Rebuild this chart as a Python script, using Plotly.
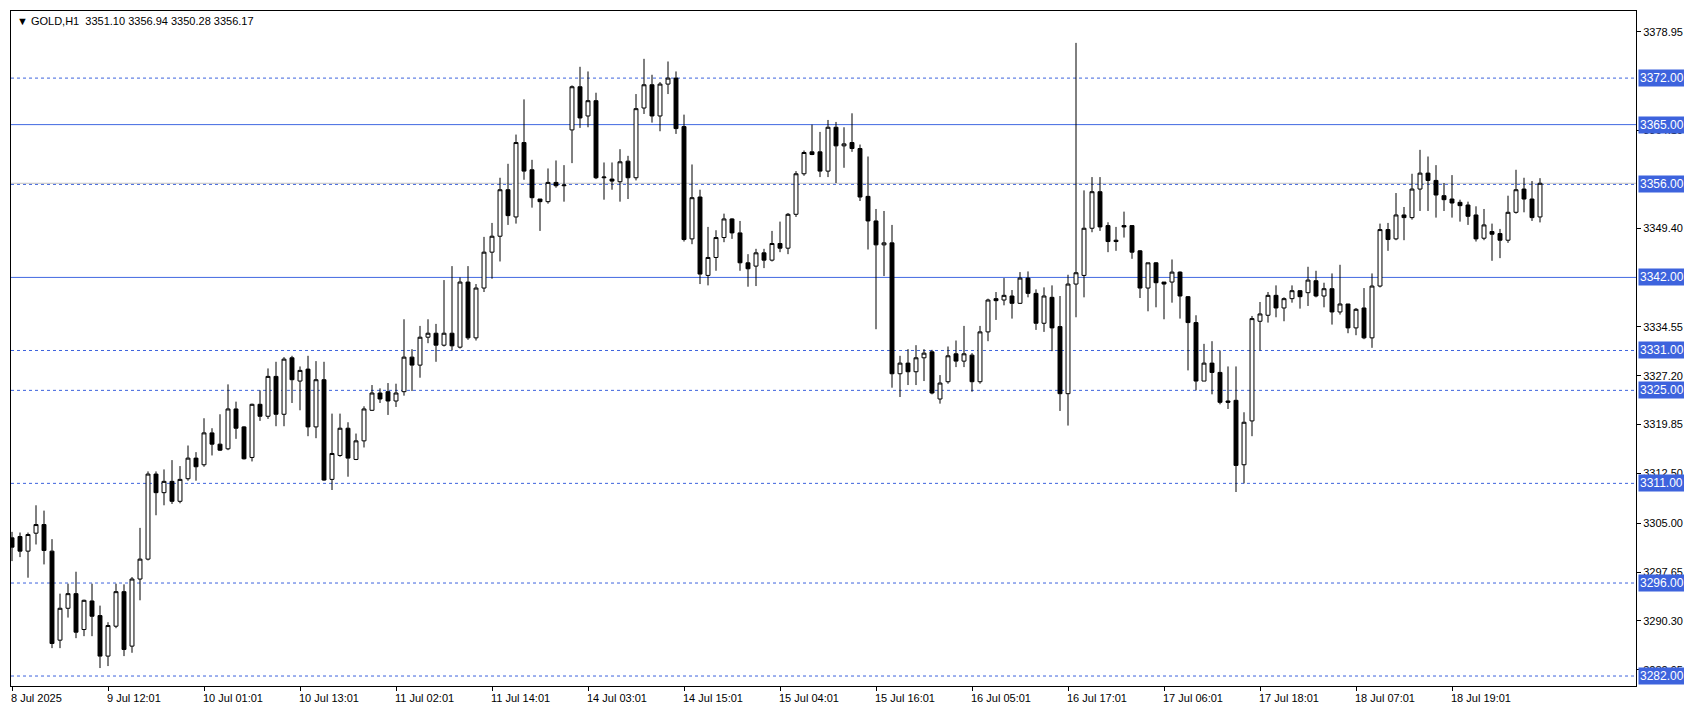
import plotly.graph_objects as go

opens = [3302.8,3303.0,3300.8,3303.5,3304.8,3300.8,3287.4,3292.2,3294.4,3289.0,
3293.3,3291.1,3285.0,3289.5,3294.7,3286.5,3296.6,3299.6,3312.4,3309.6,
3311.3,3308.3,3311.7,3314.8,3313.8,3318.6,3316.9,3316.2,3322.2,3319.5,
3314.9,3322.9,3321.1,3327.1,3321.4,3329.9,3326.4,3328.2,3319.5,3326.6,
3311.6,3315.2,3319.3,3314.6,3317.4,3322.0,3324.6,3324.8,3323.4,3324.8,
3330.0,3328.8,3333.0,3333.6,3331.8,3333.6,3331.5,3341.3,3332.9,3340.4,
3345.8,3348.2,3355.2,3351.1,3362.3,3358.2,3353.8,3353.4,3356.3,3355.8,
3364.2,3370.7,3366.3,3368.6,3357.0,3356.8,3356.4,3359.5,3357.0,3367.5,
3371.0,3366.3,3371.1,3372.0,3364.7,3347.8,3354.1,3342.3,3345.0,3348.0,
3350.8,3348.7,3344.2,3343.7,3345.7,3344.6,3347.1,3346.4,3351.5,3357.6,
3360.9,3360.9,3358.0,3364.6,3361.8,3362.3,3361.4,3354.2,3350.5,3346.9,
3347.2,3327.5,3329.1,3327.8,3329.9,3330.8,3323.7,3326.3,3330.5,3329.4,
3330.3,3326.3,3333.8,3338.8,3338.6,3339.2,3338.1,3341.9,3339.6,3335.1,
3339.0,3334.6,3324.5,3341.0,3342.3,3349.4,3354.9,3349.8,3347.6,3349.8,
3349.8,3346.0,3340.4,3344.2,3341.3,3341.3,3342.8,3339.1,3335.2,3326.4,
3329.1,3327.7,3323.4,3323.5,3313.8,3320.4,3335.4,3336.3,3339.3,3337.4,
3338.8,3340.0,3339.7,3341.5,3339.2,3340.3,3336.8,3338.0,3334.4,3337.4,
3332.9,3340.7,3349.2,3347.8,3351.4,3351.0,3355.3,3357.7,3356.6,3354.3,
3353.8,3353.3,3352.9,3351.4,3347.9,3348.9,3348.6,3347.6,3351.8,3355.3,
3353.8,3351.10]
highs = [3303.7,3303.6,3303.6,3307.7,3306.9,3302.6,3294.4,3295.9,3297.7,3293.5,
3295.9,3292.6,3290.1,3295.9,3295.8,3296.9,3304.3,3312.8,3312.8,3313.1,
3314.5,3313.6,3316.7,3315.7,3320.8,3319.3,3321.4,3325.9,3323.3,3319.6,
3323.0,3325.0,3328.3,3329.3,3330.0,3330.2,3328.6,3330.2,3329.4,3329.3,
3321.5,3321.5,3320.2,3318.5,3322.6,3325.8,3325.3,3326.1,3326.0,3335.7,
3331.2,3334.7,3335.7,3335.0,3341.6,3343.7,3342.0,3343.7,3341.0,3348.1,
3350.2,3357.0,3359.1,3363.5,3368.8,3359.7,3353.8,3358.4,3359.6,3358.9,
3370.9,3373.7,3373.0,3369.8,3359.3,3359.3,3361.3,3360.3,3369.6,3374.9,
3372.5,3371.4,3374.5,3373.0,3366.5,3359.0,3355.2,3349.6,3349.1,3351.6,
3350.9,3350.5,3345.5,3346.3,3346.3,3349.0,3350.4,3351.7,3358.0,3361.1,
3365.0,3363.9,3365.7,3365.4,3364.6,3366.7,3362.0,3360.2,3352.3,3352.0,
3349.9,3330.2,3331.2,3331.8,3331.2,3331.1,3327.3,3331.6,3332.5,3334.7,
3330.6,3334.7,3338.8,3339.8,3341.9,3340.1,3342.8,3342.9,3340.2,3340.5,
3340.8,3339.2,3342.4,3377.3,3355.1,3357.1,3357.1,3350.3,3349.6,3351.9,
3349.8,3346.1,3344.2,3344.3,3341.3,3344.7,3342.9,3339.2,3336.3,3332.0,
3332.4,3331.0,3328.6,3328.6,3321.7,3336.2,3338.3,3339.8,3340.8,3339.0,
3340.8,3340.1,3343.6,3343.0,3341.2,3342.6,3343.9,3338.0,3337.4,3340.4,
3342.6,3350.1,3350.2,3354.7,3352.6,3357.6,3361.2,3360.2,3358.9,3356.2,
3357.4,3353.7,3353.4,3352.7,3352.3,3350.1,3349.3,3354.3,3358.2,3357.0,
3356.5,3356.94]
lows = [3299.3,3299.9,3296.8,3301.8,3298.8,3286.2,3286.2,3290.8,3287.7,3288.0,
3288.0,3283.2,3283.5,3289.2,3285.0,3285.5,3293.4,3299.4,3306.2,3307.7,
3307.9,3308.0,3311.4,3311.4,3313.5,3315.2,3315.9,3316.0,3317.7,3314.6,
3314.3,3320.4,3320.7,3319.6,3319.6,3323.1,3322.0,3318.1,3317.8,3311.4,
3310.0,3315.0,3312.0,3314.5,3316.4,3321.9,3323.1,3321.3,3322.5,3324.2,
3324.9,3326.9,3332.1,3329.3,3331.6,3331.0,3331.3,3332.6,3332.5,3339.8,
3341.8,3344.4,3349.9,3350.1,3356.7,3352.5,3349.0,3353.1,3355.5,3353.4,
3359.2,3364.5,3364.6,3356.8,3353.7,3355.2,3353.4,3353.8,3356.6,3366.6,
3365.3,3364.0,3369.6,3363.6,3347.4,3347.0,3341.0,3340.8,3343.0,3347.3,
3347.8,3343.0,3340.6,3340.7,3343.4,3344.4,3345.8,3345.5,3351.1,3357.3,
3360.4,3357.1,3357.1,3356.2,3358.5,3360.9,3353.5,3346.2,3334.2,3342.2,
3325.4,3324.0,3325.8,3325.8,3326.4,3324.4,3323.0,3326.0,3328.5,3328.5,
3324.8,3326.0,3332.4,3335.6,3337.8,3335.8,3338.0,3339.0,3334.1,3333.8,
3330.9,3321.9,3319.7,3336.0,3339.0,3348.8,3349.0,3345.8,3346.0,3348.0,
3344.8,3338.9,3336.9,3337.5,3335.7,3338.2,3335.8,3328.0,3325.0,3326.4,
3324.4,3322.9,3322.2,3309.7,3311.0,3318.1,3331.0,3335.2,3336.0,3335.4,
3338.2,3337.3,3337.7,3339.0,3337.5,3334.9,3336.4,3333.6,3333.3,3332.7,
3331.4,3340.5,3346.0,3347.6,3347.6,3350.7,3352.0,3352.0,3351.0,3352.0,
3351.0,3350.4,3349.9,3347.4,3347.6,3344.5,3344.9,3347.2,3351.6,3351.8,
3350.5,3350.28]
closes = [3301.4,3300.8,3303.3,3304.8,3300.9,3286.9,3292.2,3294.4,3288.6,3293.4,
3291.0,3285.0,3289.6,3294.7,3286.0,3296.6,3299.6,3312.4,3309.6,3311.3,
3308.3,3311.6,3314.8,3313.5,3318.6,3316.9,3316.0,3322.2,3319.3,3314.7,
3322.9,3321.1,3327.1,3321.4,3329.7,3326.6,3328.0,3319.5,3326.6,3311.5,
3315.5,3319.3,3314.8,3317.4,3322.2,3324.6,3323.7,3323.4,3324.6,3330.0,
3328.8,3333.0,3333.6,3331.8,3333.6,3331.7,3341.3,3332.9,3340.4,3345.8,
3348.2,3355.2,3351.3,3362.3,3358.0,3354.0,3353.4,3356.3,3355.8,3355.9,
3370.7,3366.0,3368.6,3357.0,3357.1,3356.5,3359.4,3357.0,3367.4,3371.0,
3366.3,3371.1,3372.0,3364.4,3347.7,3354.0,3342.5,3345.0,3348.0,3350.8,
3348.7,3344.2,3343.3,3345.7,3344.6,3347.1,3346.4,3351.5,3357.6,3360.8,
3360.5,3358.0,3364.6,3361.8,3362.1,3361.4,3354.1,3350.5,3346.9,3347.2,
3327.5,3329.1,3327.8,3329.9,3330.6,3324.6,3326.1,3330.2,3329.4,3330.5,
3326.3,3333.8,3338.6,3338.5,3339.3,3338.1,3341.9,3339.6,3335.1,3339.2,
3334.4,3324.5,3341.0,3342.7,3349.4,3354.9,3349.6,3347.4,3347.4,3349.6,
3345.8,3340.4,3344.2,3341.2,3341.0,3342.8,3339.2,3335.2,3326.4,3329.1,
3327.7,3323.2,3323.2,3313.7,3320.2,3335.8,3336.5,3339.3,3337.4,3338.8,
3340.0,3339.1,3341.6,3339.2,3340.3,3336.8,3338.0,3334.4,3337.2,3332.9,
3340.7,3349.2,3347.7,3351.4,3351.0,3355.3,3357.7,3356.6,3354.4,3353.7,
3353.2,3352.8,3351.2,3347.8,3349.9,3348.5,3347.6,3351.8,3355.2,3353.8,
3351.0,3356.17]

x_tick_bars = [0,12,24,36,48,60,72,84,96,108,120,132,144,156,168,180]
x_tick_labels = ["8 Jul 2025","9 Jul 12:01","10 Jul 01:01","10 Jul 13:01","11 Jul 02:01",
                 "11 Jul 14:01","14 Jul 03:01","14 Jul 15:01","15 Jul 04:01","15 Jul 16:01",
                 "16 Jul 05:01","16 Jul 17:01","17 Jul 06:01","17 Jul 18:01","18 Jul 07:01",
                 "18 Jul 19:01"]
y_tick_vals = [3378.95,3364.10,3349.40,3334.55,3327.20,3319.85,3312.50,3305.00,3297.65,3290.30,3282.95]
dashed_levels = [3372.0,3356.0,3331.0,3325.0,3311.0,3296.0,3282.0]
solid_levels = [3365.0,3342.0]
bid_price = 3356.17

BLUE = "#3d63dd"
FONT = "Liberation Sans"
n = len(opens)
xs = list(range(n))

fig = go.Figure()
fig.add_trace(go.Candlestick(
    x=xs, open=opens, high=highs, low=lows, close=closes,
    increasing=dict(line=dict(color="black", width=1), fillcolor="white"),
    decreasing=dict(line=dict(color="black", width=1), fillcolor="black"),
    whiskerwidth=0, showlegend=False, hoverinfo="skip"))

shapes = []
for lv in dashed_levels:
    shapes.append(dict(type="line", xref="paper", x0=0, x1=1, yref="y", y0=lv, y1=lv,
                       line=dict(color=BLUE, width=1, dash="3px,3px"), layer="below"))
for lv in solid_levels:
    shapes.append(dict(type="line", xref="paper", x0=0, x1=1, yref="y", y0=lv, y1=lv,
                       line=dict(color="#4169e1", width=1), layer="below"))
shapes.append(dict(type="line", xref="paper", x0=0, x1=1, yref="y", y0=bid_price, y1=bid_price,
                   line=dict(color="#c0c0c0", width=1), layer="below"))

annotations = []
for lv in dashed_levels + solid_levels:
    annotations.append(dict(xref="paper", x=1.0, xanchor="left", xshift=2, yref="y", y=lv,
                            text=f"{lv:.2f}", showarrow=False, bgcolor=BLUE,
                            font=dict(color="white", size=12, family=FONT), borderpad=1))
for b, t in zip(x_tick_bars, x_tick_labels):
    annotations.append(dict(xref="x", x=b, xanchor="left", xshift=-3, yref="paper", y=0,
                            yanchor="top", yshift=-4, text=t, showarrow=False,
                            font=dict(color="black", size=11, family=FONT)))
annotations.append(dict(xref="paper", x=0, xanchor="left", xshift=4, yref="paper", y=1,
                        yanchor="top", yshift=-2,
                        text="\u25bc GOLD,H1  3351.10 3356.94 3350.28 3356.17", showarrow=False,
                        font=dict(color="black", size=11, family=FONT)))

fig.update_layout(
    width=1692, height=704, margin=dict(l=3, r=64, t=3, b=26),
    paper_bgcolor="white", plot_bgcolor="white",
    shapes=shapes, annotations=annotations,
    xaxis=dict(range=[-0.125, 203], showgrid=False, zeroline=False, rangeslider=dict(visible=False),
               tickvals=x_tick_bars, ticktext=[""] * len(x_tick_bars), ticks="outside", ticklen=4,
               tickcolor="black", showline=True, linecolor="black", mirror=True),
    yaxis=dict(range=[3280.5, 3382.1], side="right", showgrid=False, zeroline=False,
               tickvals=y_tick_vals, ticktext=[f"{v:.2f}" for v in y_tick_vals],
               ticks="outside", ticklen=4, tickcolor="black",
               tickfont=dict(size=11, family=FONT, color="black"),
               showline=True, linecolor="black", mirror=True),
    font=dict(family=FONT),
)
fig.write_html("out.html")
